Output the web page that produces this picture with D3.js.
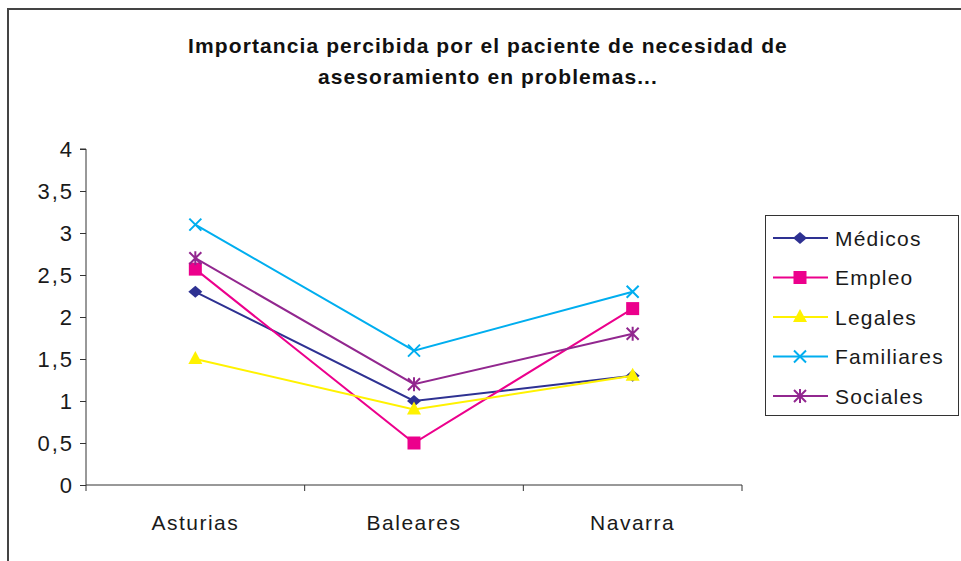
<!DOCTYPE html>
<html>
<head>
<meta charset="utf-8">
<script src="https://cdn.jsdelivr.net/npm/d3@7"></script>
<style>
body { margin: 0; background: #fff; }
text { font-family: "Liberation Sans", Arial, sans-serif; }
</style>
</head>
<body>
<svg id="chart" width="961" height="561"></svg>
<script>
var regiones = ["Asturias", "Baleares", "Navarra"];
var series = ["Médicos", "Empleo", "Legales", "Familiares", "Sociales"];
var medicos = [2.3, 1.0, 1.3];
var empleo = [2.57, 0.5, 2.1];
var legales = [1.5, 0.9, 1.3];
var familiares = [3.1, 1.6, 2.3];
var sociales = [2.7, 1.2, 1.8];
var yTicks = [0, 0.5, 1, 1.5, 2, 2.5, 3, 3.5, 4];
var titulo = ["Importancia percibida por el paciente de necesidad de", "asesoramiento en problemas..."];

var valores = [medicos, empleo, legales, familiares, sociales];
var colores = ["#2e3192", "#ec008c", "#fff200", "#00aeef", "#92278f"];
var marcas = ["diamond", "square", "triangle", "x", "star"];

var svg = d3.select("#chart");

// marco exterior (cortado a la derecha y abajo)
svg.append("path")
    .attr("d", "M8,561 L8,9 L961,9")
    .attr("fill", "none")
    .attr("stroke", "#444")
    .attr("stroke-width", 2);

// titulo
svg.selectAll(".title")
    .data(titulo)
    .enter().append("text")
    .attr("class", "title")
    .attr("x", 488)
    .attr("y", function (d, i) { return 53 + i * 31; })
    .attr("text-anchor", "middle")
    .attr("font-weight", "bold")
    .attr("font-size", 21)
    .attr("letter-spacing", 1.1)
    .attr("fill", "#111")
    .text(function (d) { return d; });

var margin = {left: 86, top: 149, right: 742, bottom: 485};

var x = d3.scaleBand().domain(regiones).range([margin.left, margin.right]).padding(0);
var y = d3.scaleLinear().domain([0, 4]).range([margin.bottom, margin.top]);

// eje y
var yAxis = d3.axisLeft(y)
    .tickValues(yTicks)
    .tickSize(6)
    .tickPadding(6)
    .tickFormat(function (d) { return String(d).replace(".", ","); });

var gy = svg.append("g")
    .attr("transform", "translate(" + margin.left + ",0)")
    .call(yAxis);
gy.select(".domain").attr("stroke", "#333").attr("d", "M0," + margin.bottom + "V" + margin.top + "H-6");
gy.selectAll("line").attr("stroke", "#333");
gy.selectAll("text").attr("font-size", 22).attr("letter-spacing", 2).attr("fill", "#1a1a1a")
    .attr("font-family", "Liberation Sans, Arial, sans-serif");

// eje x
var xAxis = d3.axisBottom(x).tickSize(0).tickPadding(30);
var gx = svg.append("g")
    .attr("transform", "translate(0," + margin.bottom + ")")
    .call(xAxis);
gx.select(".domain").attr("stroke", "#333").attr("d", "M" + margin.left + ",0H" + margin.right);
gx.selectAll("text").attr("font-size", 21).attr("letter-spacing", 1.5).attr("fill", "#1a1a1a")
    .attr("font-family", "Liberation Sans, Arial, sans-serif");

var bordes = regiones.map(function (r) { return x(r); }).concat([x(regiones[regiones.length - 1]) + x.bandwidth()]);
gx.selectAll(".borde")
    .data(bordes)
    .enter().append("line")
    .attr("class", "borde")
    .attr("x1", function (d) { return d; })
    .attr("x2", function (d) { return d; })
    .attr("y1", 0)
    .attr("y2", 6)
    .attr("stroke", "#333");

function cx(i) { return x(regiones[i]) + x.bandwidth() / 2; }

function dibujarMarca(g, tipo, color, px, py) {
    if (tipo === "diamond") {
        g.append("path").attr("d", "M" + px + "," + (py - 6) + "L" + (px + 7) + "," + py + "L" + px + "," + (py + 6) + "L" + (px - 7) + "," + py + "Z")
            .attr("fill", color);
    } else if (tipo === "square") {
        g.append("rect").attr("x", px - 6.5).attr("y", py - 6.5).attr("width", 13).attr("height", 13).attr("fill", color);
    } else if (tipo === "triangle") {
        g.append("path").attr("d", "M" + px + "," + (py - 8) + "L" + (px + 7) + "," + (py + 5) + "L" + (px - 7) + "," + (py + 5) + "Z")
            .attr("fill", color);
    } else if (tipo === "x") {
        g.append("path").attr("d", "M" + (px - 6) + "," + (py - 6) + "L" + (px + 6) + "," + (py + 6) + "M" + (px + 6) + "," + (py - 6) + "L" + (px - 6) + "," + (py + 6))
            .attr("stroke", color).attr("stroke-width", 2).attr("fill", "none");
    } else if (tipo === "star") {
        g.append("path").attr("d", "M" + (px - 6) + "," + (py - 6) + "L" + (px + 6) + "," + (py + 6) + "M" + (px + 6) + "," + (py - 6) + "L" + (px - 6) + "," + (py + 6) + "M" + px + "," + (py - 7) + "L" + px + "," + (py + 7))
            .attr("stroke", color).attr("stroke-width", 2).attr("fill", "none");
    }
}

var line = d3.line()
    .x(function (d, i) { return cx(i); })
    .y(function (d) { return y(d); });

var plot = svg.append("g");
valores.forEach(function (vals, s) {
    var g = plot.append("g");
    g.append("path")
        .datum(vals)
        .attr("d", line)
        .attr("fill", "none")
        .attr("stroke", colores[s])
        .attr("stroke-width", 2);
    vals.forEach(function (v, i) {
        dibujarMarca(g, marcas[s], colores[s], cx(i), y(v));
    });
});

// leyenda
var legend = svg.append("g");
legend.append("rect")
    .attr("x", 765.5).attr("y", 215.5).attr("width", 193).attr("height", 200)
    .attr("fill", "#fff").attr("stroke", "#333").attr("stroke-width", 1);

series.forEach(function (nombre, s) {
    var ly = 238 + s * 39.5;
    var g = legend.append("g");
    g.append("line").attr("x1", 773).attr("x2", 828).attr("y1", ly).attr("y2", ly)
        .attr("stroke", colores[s]).attr("stroke-width", 2);
    dibujarMarca(g, marcas[s], colores[s], 800, ly);
    g.append("text").attr("x", 835).attr("y", ly + 7.5)
        .attr("font-size", 21).attr("letter-spacing", 1.2).attr("fill", "#1a1a1a")
        .text(nombre);
});
</script>
</body>
</html>
